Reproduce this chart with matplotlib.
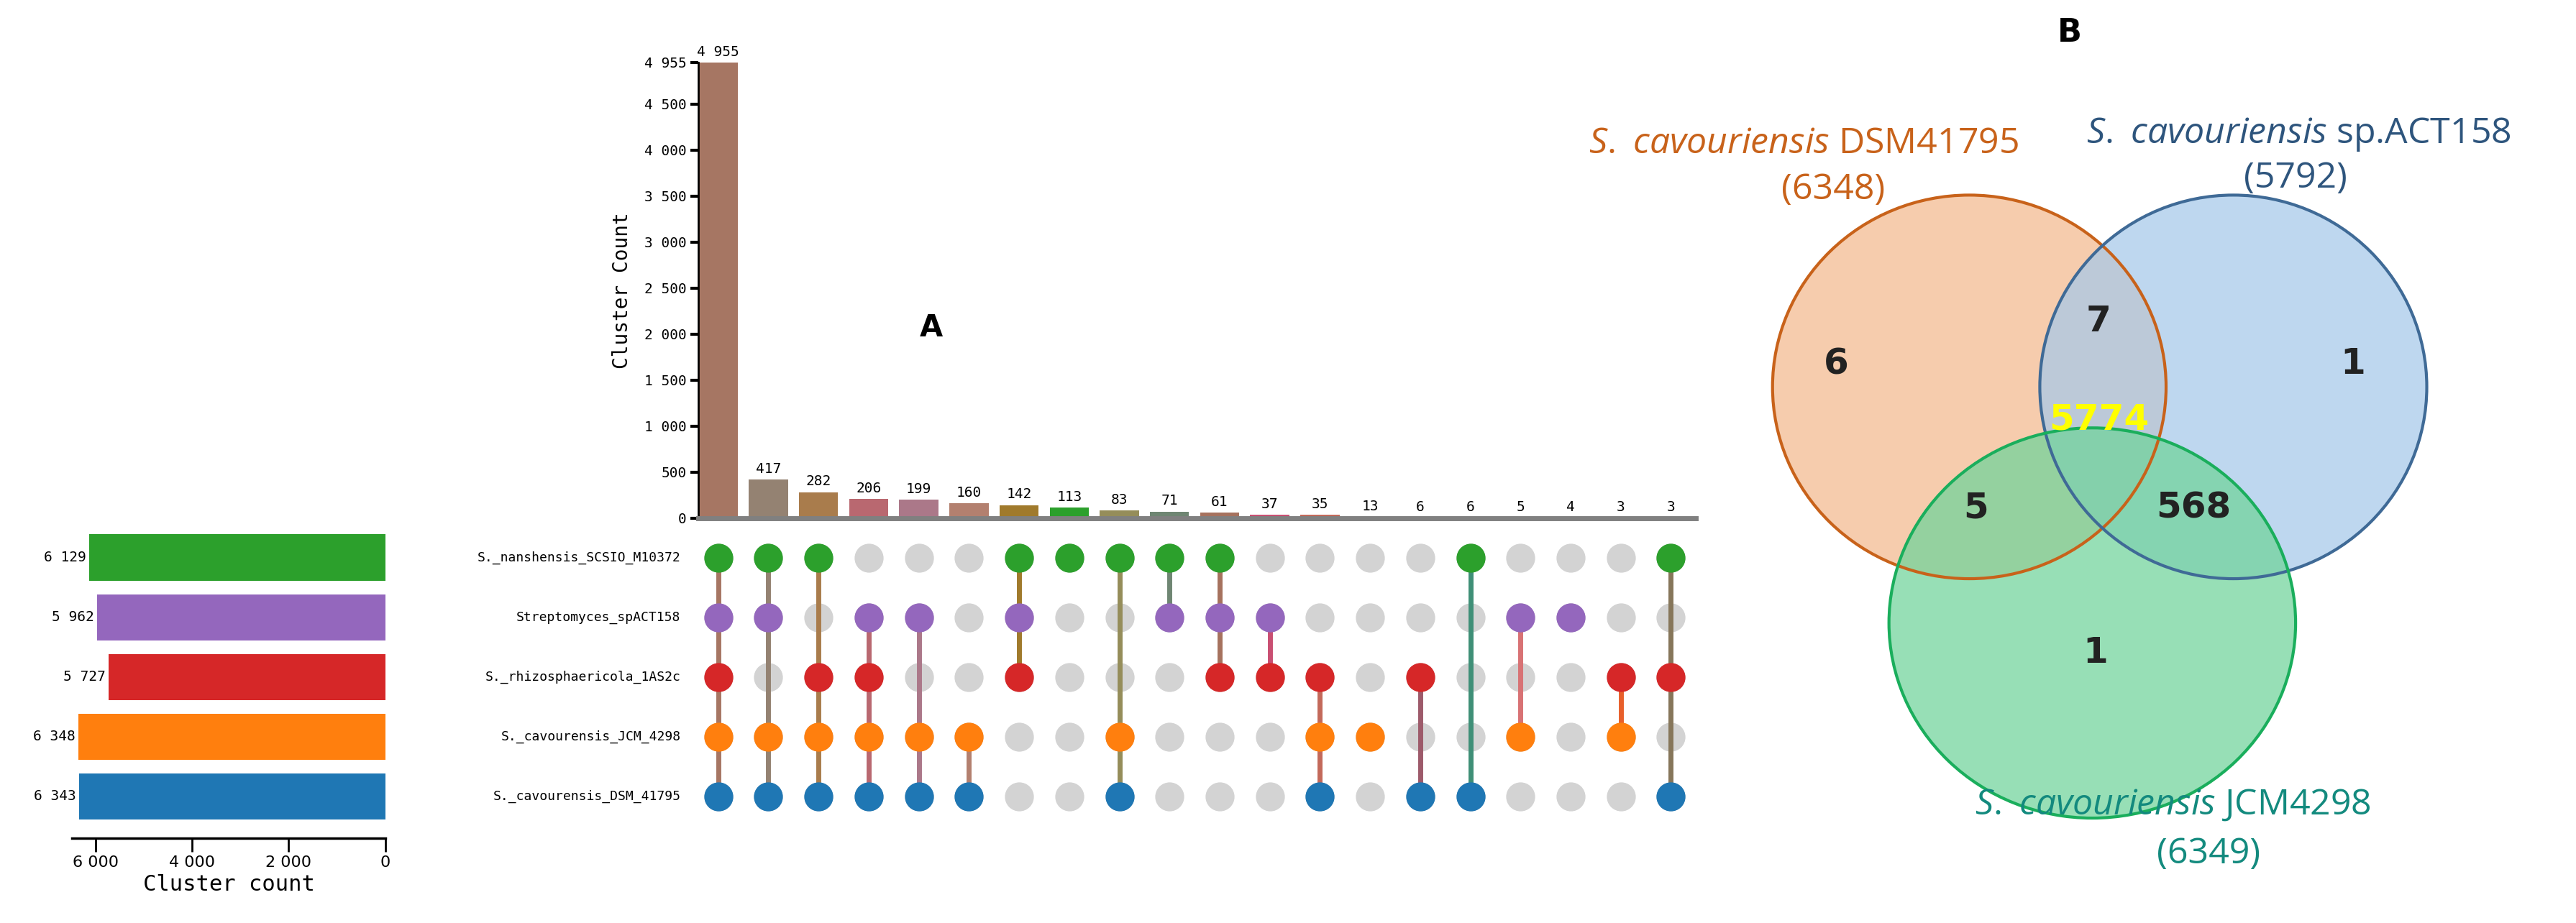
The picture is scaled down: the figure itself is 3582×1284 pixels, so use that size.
import matplotlib
matplotlib.use("Agg")
import matplotlib.pyplot as plt
from matplotlib.patches import Ellipse

plt.rcParams["mathtext.fontset"] = "custom"
plt.rcParams["mathtext.it"] = "Open Sans:italic"
plt.rcParams["mathtext.rm"] = "Open Sans"

W, H = 1571.0, 563.0
def fx(x): return x / W
def fy(y): return 1 - y / H

sets = ["S._nanshensis_SCSIO_M10372", "Streptomyces_spACT158", "S._rhizosphaericola_1AS2c",
        "S._cavourensis_JCM_4298", "S._cavourensis_DSM_41795"]
set_sizes = [6129, 5962, 5727, 6348, 6343]
set_colors = ["#2ca02c", "#9467bd", "#d62728", "#ff7f0e", "#1f77b4"]

counts = [4955, 417, 282, 206, 199, 160, 142, 113, 83, 71, 61, 37, 35, 13, 6, 6, 5, 4, 3, 3]
members = [[0,1,2,3,4],[0,1,3,4],[0,2,3,4],[1,2,3,4],[1,3,4],[3,4],[0,1,2],[0],[0,3,4],[0,1],
           [0,1,2],[1,2],[2,3,4],[3],[2,4],[0,4],[1,3],[1],[2,3],[0,2,4]]
col_colors = ["#a67663", "#948272", "#a97c4c", "#b96870", "#ab7889", "#b3806f", "#a07a2c", "#2ca02c",
              "#958d5a", "#6f8673", "#a6725e", "#c94f72", "#c3695a", "#ffbb78", "#9d5a6a", "#3f8f77",
              "#d87274", "#e8dff0", "#e85f2b", "#86765a"]
bar_colors = col_colors[:14] + ["#f2e4e4", "#dde8e0", "#f5e3e3", "#ece6f2", "#f7e4e0", "#eee4e0"]

venn_labels = ["S. cavouriensis", "S. cavouriensis", "S. cavouriensis"]
venn_strains = ["DSM41795", "sp.ACT158", "JCM4298"]
venn_totals = [6348, 5792, 6349]
venn_regions = {"100": 6, "110": 7, "010": 1, "111": 5774, "101": 5, "011": 568, "001": 1}

def fmt(v):
    return f"{v:,}".replace(",", " ")

mono = "DejaVu Sans Mono"
fig = plt.figure(figsize=(35.82, 12.84), dpi=100)

# --- Venn (background axes)
axv = fig.add_axes([0, 0, 1, 1])
axv.set_xlim(0, W)
axv.set_ylim(H, 0)
axv.axis("off")
circ = [((1201, 236), 240, 234, "#f3b98e", "#c8621a"),
        ((1362, 236), 236, 234, "#a6c8ea", "#3f6a96"),
        ((1276, 380), 248, 238, "#6fd39a", "#1aae5c")]
for (c, w_, h_, fc, ec) in circ:
    axv.add_patch(Ellipse(c, w_, h_, facecolor=fc, edgecolor="none", alpha=0.72))
for (c, w_, h_, fc, ec) in circ:
    axv.add_patch(Ellipse(c, w_, h_, facecolor="none", edgecolor=ec, lw=3))
lab_pos = [((1100, 88), (1118, 116), "#c8621a"), ((1402, 82), (1400, 109), "#2e557d"),
           ((1325, 491), (1347, 521), "#138a7e")]
for i in range(3):
    (p1, p2, col) = lab_pos[i]
    it = venn_labels[i].replace(" ", r"\ ")
    axv.text(p1[0], p1[1], f"$\\it{{{it}}}$ {venn_strains[i]}",
             ha="center", va="center", fontsize=36, color=col, family="Open Sans")
    axv.text(p2[0], p2[1], f"({venn_totals[i]})", ha="center", va="center", fontsize=36,
             color=col, family="Open Sans")
num_pos = {"100": (1120, 222), "110": (1280, 196), "010": (1435, 222), "111": (1280, 256),
           "101": (1205, 310), "011": (1338, 310), "001": (1278, 398)}
for k, v in venn_regions.items():
    x, y = num_pos[k]
    axv.text(x, y, str(v), ha="center", va="center", fontsize=36, fontweight="bold",
             color="#ffff00" if k == "111" else "#222222", family="DejaVu Sans")
axv.text(1262, 20, "B", ha="center", va="center", fontsize=32, fontweight="bold")

# --- top intersection bars
xl, xr = fx(425.8), fx(1034.3)
axb = fig.add_axes([xl, fy(316), xr - xl, fy(38) - fy(316)])
axb.patch.set_alpha(0)
xs = list(range(len(counts)))
axb.bar(xs, counts, width=0.78, color=bar_colors)
for x, c in zip(xs, counts):
    axb.text(x, c + 40, fmt(c), ha="center", va="bottom", fontsize=14, family=mono)
axb.set_xlim(-0.4, 19.5)
axb.set_ylim(0, 4955)
yt = [0, 500, 1000, 1500, 2000, 2500, 3000, 3500, 4000, 4500, 4955]
axb.set_yticks(yt)
axb.set_yticklabels([fmt(v) for v in yt], family=mono)
axb.tick_params(axis="y", width=3, length=8, labelsize=14)
axb.set_xticks([])
axb.spines[["top", "right"]].set_visible(False)
axb.spines["bottom"].set_color("#808080")
axb.spines["bottom"].set_linewidth(5)
axb.spines["left"].set_linewidth(2)
axb.set_ylabel("Cluster Count", family=mono, fontsize=20, labelpad=12)

# --- matrix
axm = fig.add_axes([xl, fy(504), xr - xl, fy(322) - fy(504)], sharex=axb)
axm.axis("off")
axm.set_ylim(-0.5, 4.5)
ypos = [4, 3, 2, 1, 0]
for x in xs:
    for i in range(5):
        axm.plot(x, ypos[i], "o", ms=28, color="#d3d3d3", zorder=1)
    m = members[x]
    ys = [ypos[i] for i in m]
    if len(m) > 1:
        axm.plot([x, x], [min(ys), max(ys)], color=col_colors[x], lw=5, zorder=2)
    for i in m:
        axm.plot(x, ypos[i], "o", ms=28, color=set_colors[i], zorder=3)
for i, s in enumerate(sets):
    axm.text(-0.75, ypos[i], s, ha="right", va="center", fontsize=13, family=mono)

# --- set size bars
axs = fig.add_axes([fx(44), fy(504), fx(235) - fx(44), fy(322) - fy(504)])
axs.barh(ypos, set_sizes, height=0.78, color=set_colors)
axs.set_xlim(6480, 0)
axs.set_ylim(-0.5, 4.5)
for i, v in enumerate(set_sizes):
    axs.text(v + 60, ypos[i], fmt(v), ha="right", va="center", fontsize=14, family=mono)
axs.set_xticks([6000, 4000, 2000, 0])
axs.set_xticklabels([fmt(v) for v in [6000, 4000, 2000, 0]], family=mono)
axs.tick_params(axis="x", width=2, length=14, labelsize=16)
axs.set_yticks([])
for sp in ["top", "right", "left"]:
    axs.spines[sp].set_visible(False)
axs.spines["bottom"].set_linewidth(2.5)
axs.spines["bottom"].set_position(("outward", 12))
axs.set_xlabel("Cluster count", family=mono, fontsize=22)

fig.text(fx(568), fy(200), "A", fontsize=30, fontweight="bold", ha="center", va="center")

fig.savefig("out.png", dpi=100)
